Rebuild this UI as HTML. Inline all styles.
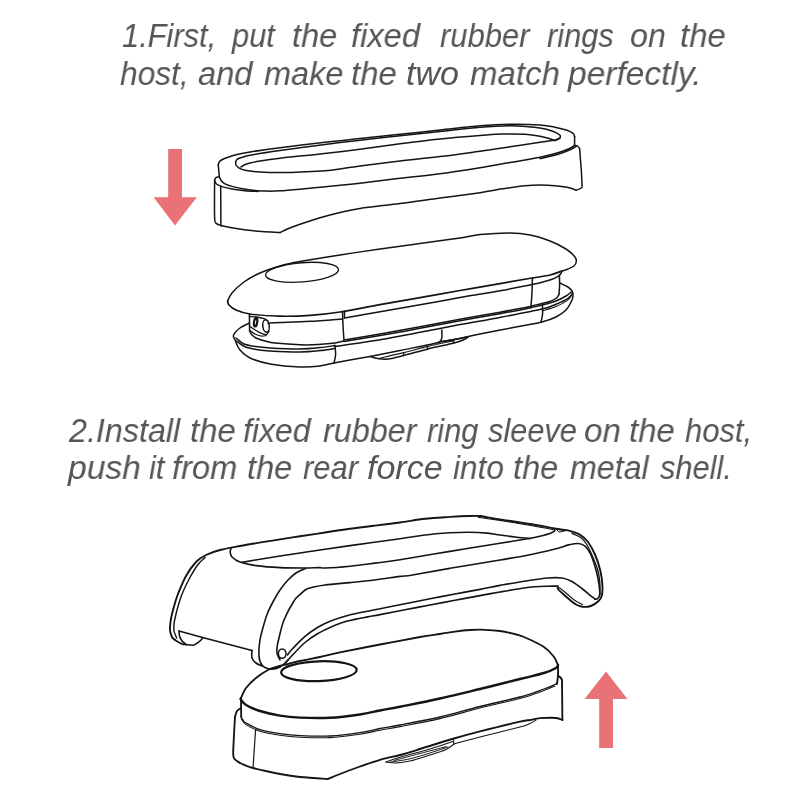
<!DOCTYPE html>
<html><head><meta charset="utf-8">
<style>
html,body{margin:0;padding:0;background:#fff;}
body{width:800px;height:800px;position:relative;overflow:hidden;font-family:"Liberation Sans",sans-serif;}
.t{position:absolute;white-space:nowrap;font-style:italic;color:#555555;font-size:34px;line-height:1;transform-origin:0 0;will-change:transform;}
svg{position:absolute;left:0;top:0;}
</style></head><body>
<span class="t" style="left:122.00px;top:18.2px;transform:scaleX(0.9060)">1.First,</span>
<span class="t" style="left:231.86px;top:18.2px;transform:scaleX(0.9050)">put</span>
<span class="t" style="left:291.54px;top:18.2px;transform:scaleX(0.9591)">the</span>
<span class="t" style="left:351.04px;top:18.2px;transform:scaleX(0.9595)">fixed</span>
<span class="t" style="left:440.00px;top:18.2px;transform:scaleX(0.9104)">rubber</span>
<span class="t" style="left:546.65px;top:18.2px;transform:scaleX(0.9050)">rings</span>
<span class="t" style="left:630.05px;top:18.2px;transform:scaleX(0.9468)">on</span>
<span class="t" style="left:680.03px;top:18.2px;transform:scaleX(0.9701)">the</span>
<span class="t" style="left:120.00px;top:55.5px;transform:scaleX(0.9322)">host,</span>
<span class="t" style="left:197.50px;top:55.5px;transform:scaleX(0.9599)">and</span>
<span class="t" style="left:264.00px;top:55.5px;transform:scaleX(0.9546)">make</span>
<span class="t" style="left:351.03px;top:55.5px;transform:scaleX(0.9701)">the</span>
<span class="t" style="left:406.13px;top:55.5px;transform:scaleX(0.9950)">two</span>
<span class="t" style="left:470.00px;top:55.5px;transform:scaleX(0.9708)">match</span>
<span class="t" style="left:568.49px;top:55.5px;transform:scaleX(0.9852)">perfectly.</span>
<span class="t" style="left:68.95px;top:413.2px;transform:scaleX(0.9488)">2.Install</span>
<span class="t" style="left:190.03px;top:413.2px;transform:scaleX(0.9701)">the</span>
<span class="t" style="left:243.06px;top:413.2px;transform:scaleX(0.9387)">fixed</span>
<span class="t" style="left:322.50px;top:413.2px;transform:scaleX(0.9504)">rubber</span>
<span class="t" style="left:426.80px;top:413.2px;transform:scaleX(0.9050)">ring</span>
<span class="t" style="left:487.94px;top:413.2px;transform:scaleX(0.9050)">sleeve</span>
<span class="t" style="left:584.03px;top:413.2px;transform:scaleX(0.9747)">on</span>
<span class="t" style="left:629.03px;top:413.2px;transform:scaleX(0.9701)">the</span>
<span class="t" style="left:685.00px;top:413.2px;transform:scaleX(0.9108)">host,</span>
<span class="t" style="left:67.99px;top:449.8px;transform:scaleX(0.9889)">push</span>
<span class="t" style="left:149.10px;top:449.8px;transform:scaleX(0.9050)">it</span>
<span class="t" style="left:172.04px;top:449.8px;transform:scaleX(0.9592)">from</span>
<span class="t" style="left:246.54px;top:449.8px;transform:scaleX(0.9591)">the</span>
<span class="t" style="left:302.50px;top:449.8px;transform:scaleX(0.9092)">rear</span>
<span class="t" style="left:366.60px;top:449.8px;transform:scaleX(0.9950)">force</span>
<span class="t" style="left:452.50px;top:449.8px;transform:scaleX(0.9275)">into</span>
<span class="t" style="left:513.04px;top:449.8px;transform:scaleX(0.9591)">the</span>
<span class="t" style="left:570.00px;top:449.8px;transform:scaleX(0.9458)">metal</span>
<span class="t" style="left:659.64px;top:449.8px;transform:scaleX(0.9050)">shell.</span>
<svg width="800" height="800" viewBox="0 0 800 800">
<g fill="#E97277" stroke="none">
<polygon points="168.2,149 182,149 182,197.3 196.8,197.3 175,225.5 153.6,197.3 168.2,197.3"/>
<polygon points="606,671.5 627.5,699 613,699 613,748 599.2,748 599.2,699 584.6,699"/>
</g>
<g fill="none" stroke="#141414" stroke-linecap="round" stroke-linejoin="round">
<path d="M218.3,165.0C218.5,164.4 218.5,162.6 219.5,161.5C220.5,160.4 221.9,159.6 224.5,158.5C227.1,157.4 230.8,156.1 235.0,155.0C239.2,153.9 242.5,153.2 250.0,152.0C257.5,150.8 267.5,149.3 280.0,147.7C292.5,146.1 311.7,143.7 325.0,142.2C338.3,140.7 347.5,139.9 360.0,138.6C372.5,137.3 386.7,135.7 400.0,134.3C413.3,132.9 426.7,131.4 440.0,130.0C453.3,128.6 468.3,126.8 480.0,125.8C491.7,124.8 500.0,124.4 510.0,124.3C520.0,124.2 532.5,124.5 540.0,125.0C547.5,125.5 550.5,126.3 555.0,127.2C559.5,128.1 564.0,129.3 567.0,130.3C570.0,131.3 571.7,132.3 573.0,133.3C574.3,134.3 574.3,136.0 574.6,136.5" stroke-width="1.5"/>
<path d="M574.6,136.5L574.6,145.2" stroke-width="1.5"/>
<path d="M235.7,161.5C236.0,161.1 236.4,159.7 237.5,159.0C238.6,158.3 240.4,157.8 242.5,157.2C244.6,156.6 243.8,156.4 250.0,155.3C256.2,154.2 267.5,152.4 280.0,150.6C292.5,148.8 311.7,146.2 325.0,144.5C338.3,142.8 347.5,141.6 360.0,140.2C372.5,138.8 386.7,137.3 400.0,135.8C413.3,134.3 426.7,132.8 440.0,131.4C453.3,130.0 468.3,128.1 480.0,127.2C491.7,126.3 502.5,125.9 510.0,125.8C517.5,125.7 520.0,126.0 525.0,126.4C530.0,126.8 535.5,127.2 540.0,128.0C544.5,128.8 548.8,129.9 552.0,131.0C555.2,132.1 558.2,133.7 559.5,134.8C560.8,135.9 560.5,136.9 560.0,137.8C559.5,138.7 557.1,139.6 556.5,140.0" stroke-width="1.5"/>
<path d="M241.0,167.0C241.7,166.6 243.5,165.2 245.0,164.5C246.5,163.8 247.5,163.6 250.0,163.0C252.5,162.4 255.0,161.8 260.0,161.0C265.0,160.2 270.0,159.4 280.0,158.2C290.0,157.0 306.7,155.5 320.0,154.0C333.3,152.5 346.7,150.9 360.0,149.2C373.3,147.5 386.7,145.5 400.0,143.8C413.3,142.1 426.7,140.4 440.0,139.0C453.3,137.6 469.6,136.3 480.0,135.5C490.4,134.7 495.0,134.2 502.5,134.0C510.0,133.8 518.8,133.9 525.0,134.3C531.2,134.7 536.0,135.5 540.0,136.2C544.0,136.9 546.5,137.8 549.0,138.5C551.5,139.2 554.0,140.3 555.0,140.7" stroke-width="1.5"/>
<path d="M235.7,161.5C235.8,162.1 235.4,163.9 236.0,165.0C236.6,166.1 237.5,167.1 239.0,168.0C240.5,168.9 241.5,169.6 245.0,170.3C248.5,171.0 254.2,171.6 260.0,172.0C265.8,172.4 273.3,172.6 280.0,172.6C286.7,172.6 292.5,172.3 300.0,172.0C307.5,171.7 315.0,171.8 325.0,170.8C335.0,169.8 347.5,167.6 360.0,166.0C372.5,164.4 386.7,162.6 400.0,161.0C413.3,159.4 426.7,158.2 440.0,156.6C453.3,155.0 468.3,152.8 480.0,151.2C491.7,149.6 500.0,148.3 510.0,146.8C520.0,145.3 532.5,143.3 540.0,142.2C547.5,141.1 551.7,140.7 555.0,140.0C558.3,139.3 559.2,138.2 560.0,137.8" stroke-width="1.5"/>
<path d="M218.3,165.0L219.3,177.0" stroke-width="1.5"/>
<path d="M219.3,177.0C219.7,177.7 220.6,179.9 221.5,181.0C222.4,182.1 223.2,182.9 225.0,183.8C226.8,184.7 229.1,185.6 232.0,186.4C234.9,187.2 238.7,188.1 242.5,188.8C246.3,189.5 250.8,190.1 255.0,190.5C259.2,190.9 263.3,191.0 267.5,191.1C271.7,191.2 274.6,191.1 280.0,190.8C285.4,190.5 293.3,189.8 300.0,189.2C306.7,188.6 313.3,188.0 320.0,187.3C326.7,186.7 333.3,186.0 340.0,185.3C346.7,184.6 350.0,184.4 360.0,183.2C370.0,182.0 386.7,179.9 400.0,178.3C413.3,176.7 426.7,175.6 440.0,173.8C453.3,172.1 468.3,169.7 480.0,167.8C491.7,165.9 500.0,164.3 510.0,162.5C520.0,160.7 532.0,158.8 540.0,157.2C548.0,155.6 553.0,154.3 558.0,152.8C563.0,151.3 567.2,149.6 570.0,148.3C572.8,147.0 573.8,145.7 574.6,145.2" stroke-width="1.5"/>
<path d="M219.3,177.0C218.8,177.1 217.0,176.9 216.2,177.4C215.4,177.9 214.9,179.6 214.6,180.0" stroke-width="1.5"/>
<path d="M214.7,181.0C215.0,181.5 215.3,183.1 216.5,184.0C217.7,184.9 219.4,185.8 222.0,186.6C224.6,187.4 228.2,188.3 232.0,189.0C235.8,189.7 240.7,190.4 245.0,190.8C249.3,191.2 255.8,191.3 258.0,191.4" stroke-width="1.5"/>
<path d="M540.0,158.6C543.0,157.9 553.0,155.8 558.0,154.3C563.0,152.8 567.0,151.1 570.0,149.8C573.0,148.5 575.0,147.1 576.0,146.5" stroke-width="1.5"/>
<path d="M574.6,145.5C575.1,145.6 576.6,145.4 577.5,146.0C578.4,146.6 579.3,148.5 579.7,149.0" stroke-width="1.5"/>
<path d="M214.6,180.0C214.6,183.3 214.5,193.4 214.5,200.0C214.5,206.6 214.4,215.6 214.7,219.5C215.0,223.4 215.1,222.3 216.2,223.4C217.3,224.5 220.6,225.4 221.5,225.8" stroke-width="1.5"/>
<path d="M220.7,186.2L220.9,225.6" stroke-width="1.5"/>
<path d="M221.5,225.8C225.0,226.4 235.8,228.5 242.5,229.5C249.2,230.5 255.8,231.1 262.0,231.6C268.2,232.1 277.0,232.3 280.0,232.5" stroke-width="1.5"/>
<path d="M280.0,232.5C281.3,231.9 284.7,230.2 288.0,228.8C291.3,227.4 294.7,226.1 300.0,224.3C305.3,222.5 313.3,219.8 320.0,217.8C326.7,215.8 333.3,214.1 340.0,212.5C346.7,210.9 350.0,209.9 360.0,208.4C370.0,206.9 386.7,205.2 400.0,203.5C413.3,201.8 426.7,199.8 440.0,198.0C453.3,196.2 469.6,194.2 480.0,192.7C490.4,191.2 495.0,190.0 502.5,188.8C510.0,187.7 518.8,186.4 525.0,185.8C531.2,185.2 535.0,185.0 540.0,185.0C545.0,185.0 550.0,185.3 555.0,185.8C560.0,186.3 566.5,187.2 570.0,188.0C573.5,188.8 575.0,189.9 576.0,190.3" stroke-width="1.5"/>
<path d="M579.7,149.0C579.8,150.8 580.2,156.5 580.5,160.0C580.8,163.5 581.0,165.8 581.3,170.0C581.5,174.2 582.0,182.0 582.0,185.0C582.0,188.0 582.3,187.1 581.3,188.0C580.3,188.9 576.9,189.9 576.0,190.3" stroke-width="1.5"/>
<path d="M227.6,301.0C228.3,299.7 229.3,296.2 232.0,293.0C234.7,289.8 239.3,285.3 244.0,282.0C248.7,278.7 254.0,275.7 260.0,273.0C266.0,270.3 273.3,267.9 280.0,266.0C286.7,264.1 290.0,263.4 300.0,261.6C310.0,259.8 326.7,257.1 340.0,255.0C353.3,252.9 366.7,250.9 380.0,249.0C393.3,247.1 406.7,245.3 420.0,243.5C433.3,241.7 450.0,239.5 460.0,238.0C470.0,236.5 471.7,235.4 480.0,234.6C488.3,233.8 501.7,232.9 510.0,233.0C518.3,233.1 523.3,233.7 530.0,235.0C536.7,236.3 544.0,238.7 550.0,241.0C556.0,243.3 561.8,246.3 566.0,249.0C570.2,251.7 573.3,254.8 575.0,257.0C576.7,259.2 576.4,260.5 576.2,262.0C576.0,263.5 575.4,264.8 574.0,266.0C572.6,267.2 570.0,268.2 568.0,269.0C566.0,269.8 563.0,270.7 562.0,271.0" stroke-width="1.5"/>
<path d="M227.6,301.0C227.8,301.7 227.6,303.5 229.0,305.0C230.4,306.5 232.5,308.5 236.0,310.0C239.5,311.5 242.7,313.0 250.0,314.0C257.3,315.0 270.0,316.0 280.0,316.2C290.0,316.4 300.0,316.1 310.0,315.4C320.0,314.7 328.3,313.8 340.0,312.0C351.7,310.2 366.7,307.0 380.0,304.6C393.3,302.2 406.7,300.0 420.0,297.6C433.3,295.2 446.7,292.8 460.0,290.5C473.3,288.2 488.0,285.7 500.0,283.6C512.0,281.5 523.7,279.4 532.0,278.0C540.3,276.6 545.0,276.2 550.0,275.0C555.0,273.8 560.0,271.7 562.0,271.0" stroke-width="1.7"/>
<path d="M344.5,318.0C350.4,316.9 367.4,313.9 380.0,311.7C392.6,309.5 406.7,307.1 420.0,304.8C433.3,302.5 446.7,299.9 460.0,297.6C473.3,295.3 488.0,293.0 500.0,290.8C512.0,288.6 523.7,286.4 532.0,284.6C540.3,282.8 545.6,281.4 550.0,280.0C554.4,278.6 556.6,277.5 558.5,276.2C560.4,274.9 561.0,273.0 561.5,272.4" stroke-width="1.5"/>
<path d="M344.5,311.3L344.5,318.0" stroke-width="1.5"/>
<path d="M342.5,311.5C342.6,313.8 342.8,320.2 343.0,325.0C343.2,329.8 343.8,337.5 344.0,340.0" stroke-width="1.5"/>
<path d="M532.4,278.0C532.3,280.3 532.2,287.3 532.0,292.0C531.8,296.7 531.2,303.7 531.0,306.0" stroke-width="1.5"/>
<path d="M559.4,275.0C559.4,276.7 559.7,281.8 559.6,285.0C559.5,288.2 559.1,292.9 559.0,294.5" stroke-width="1.5"/>
<path d="M249.4,314.5L249.6,331.0" stroke-width="1.5"/>
<path d="M268.0,323.2C270.0,323.1 273.0,322.9 280.0,322.6C287.0,322.3 299.6,321.9 310.0,321.3C320.4,320.7 337.1,319.3 342.5,318.9" stroke-width="1.5"/>
<path d="M250.0,316.5C251.3,316.6 255.7,316.8 258.0,317.2C260.3,317.6 262.3,318.0 264.0,318.6C265.7,319.2 267.3,320.6 268.0,321.0" stroke-width="1.4"/>
<path d="M250.0,326.5C251.0,327.2 254.0,329.3 256.0,330.5C258.0,331.7 260.2,332.9 262.0,333.6C263.8,334.3 265.3,334.9 266.5,334.5C267.7,334.1 268.6,331.6 269.0,331.0" stroke-width="1.4"/>
<path d="M250.0,330.5C250.8,331.1 253.2,333.1 255.0,334.0C256.8,334.9 259.2,335.7 261.0,336.0C262.8,336.3 265.2,335.7 266.0,335.6" stroke-width="1.2"/>
<path d="M249.6,331.0C249.9,331.6 250.3,333.3 251.5,334.5C252.7,335.7 254.2,337.2 256.5,338.3C258.8,339.4 261.9,340.2 265.0,341.0C268.1,341.8 269.2,342.5 275.0,343.1C280.8,343.7 292.8,344.6 300.0,344.8C307.2,345.1 312.2,344.9 318.0,344.6C323.8,344.3 330.8,343.7 335.0,343.1C339.2,342.5 342.1,341.4 343.5,341.0" stroke-width="1.5"/>
<path d="M344.0,340.0C350.0,339.0 367.3,336.2 380.0,334.0C392.7,331.8 406.7,329.3 420.0,326.8C433.3,324.3 446.7,321.6 460.0,319.2C473.3,316.8 488.2,314.3 500.0,312.2C511.8,310.1 525.8,307.4 531.0,306.4" stroke-width="1.5"/>
<path d="M344.0,341.6C350.0,340.6 367.3,337.8 380.0,335.6C392.7,333.4 406.7,330.8 420.0,328.3C433.3,325.8 446.7,323.1 460.0,320.7C473.3,318.3 488.2,315.8 500.0,313.7C511.8,311.6 525.8,308.8 531.0,307.8" stroke-width="1.5"/>
<path d="M531.0,306.0C533.8,305.3 543.8,303.2 548.0,302.0C552.2,300.8 554.2,299.8 556.0,298.5C557.8,297.2 558.5,295.2 559.0,294.5" stroke-width="1.5"/>
<path d="M531.0,307.4C532.8,307.0 537.8,306.1 542.0,305.0C546.2,303.9 552.0,302.5 556.0,301.0C560.0,299.5 563.3,297.6 566.0,296.0C568.7,294.4 571.0,292.2 572.0,291.5" stroke-width="1.5"/>
<path d="M560.0,283.0C561.3,283.7 566.0,285.7 568.0,287.0C570.0,288.3 571.2,289.7 572.0,291.0C572.8,292.3 573.0,293.5 573.0,295.0C573.0,296.5 573.2,297.5 572.0,300.0C570.8,302.5 568.7,307.2 566.0,310.0C563.3,312.8 560.0,315.0 556.0,317.0C552.0,319.0 548.0,320.4 542.0,322.0C536.0,323.6 530.3,324.3 520.0,326.3C509.7,328.3 490.0,332.0 480.0,334.0C470.0,336.0 466.3,337.1 460.0,338.4C453.7,339.6 445.0,341.0 442.0,341.5" stroke-width="1.5"/>
<path d="M335.0,346.4C342.5,345.3 365.8,342.2 380.0,339.8C394.2,337.4 406.7,334.7 420.0,332.2C433.3,329.7 446.7,327.1 460.0,324.6C473.3,322.1 486.3,320.0 500.0,317.4C513.7,314.8 532.7,311.2 542.0,309.0C551.3,306.8 551.7,306.1 556.0,304.3C560.3,302.5 565.3,300.2 568.0,298.4C570.7,296.6 571.7,294.4 572.4,293.6" stroke-width="1.5"/>
<path d="M542.4,305.0C542.4,306.5 542.8,311.2 542.6,314.0C542.4,316.8 541.3,320.7 541.0,322.0" stroke-width="1.5"/>
<path d="M249.6,323.0C248.0,323.8 242.7,326.0 240.0,328.0C237.3,330.0 234.4,333.0 233.6,335.0C232.8,337.0 233.9,337.5 235.0,340.0C236.1,342.5 237.5,347.0 240.0,350.0C242.5,353.0 245.0,355.7 250.0,358.0C255.0,360.3 261.7,362.5 270.0,364.0C278.3,365.5 291.7,366.7 300.0,367.0C308.3,367.3 314.3,366.7 320.0,366.0C325.7,365.3 331.7,363.5 334.0,363.0" stroke-width="1.5"/>
<path d="M236.0,338.0C237.3,339.0 240.7,342.6 244.0,344.0C247.3,345.4 251.7,345.9 256.0,346.6C260.3,347.3 262.7,347.6 270.0,348.0C277.3,348.4 291.7,349.1 300.0,349.0C308.3,348.9 314.2,348.2 320.0,347.6C325.8,347.0 332.5,345.9 335.0,345.6" stroke-width="1.5"/>
<path d="M236.6,341.0C238.0,342.0 241.6,345.4 245.0,346.8C248.4,348.2 252.8,348.9 257.0,349.6C261.2,350.3 262.8,350.6 270.0,351.0C277.2,351.4 291.7,352.1 300.0,352.0C308.3,351.9 314.2,351.2 320.0,350.6C325.8,350.0 332.2,348.8 334.6,348.4" stroke-width="1.5"/>
<path d="M335.0,345.6C335.1,347.2 335.8,352.1 335.6,355.0C335.4,357.9 334.3,361.7 334.0,363.0" stroke-width="1.5"/>
<path d="M334.0,363.0C336.7,362.5 344.0,361.1 350.0,360.0C356.0,358.9 366.7,357.0 370.0,356.4" stroke-width="1.5"/>
<path d="M370.0,356.4C375.0,355.4 390.0,352.5 400.0,350.5C410.0,348.5 423.0,346.0 430.0,344.5C437.0,343.0 435.7,342.9 442.0,341.6C448.3,340.4 463.7,337.8 468.0,337.0" stroke-width="1.5"/>
<path d="M441.8,330.0C441.8,331.0 442.1,334.2 442.0,336.0C441.9,337.8 441.7,339.3 441.0,340.5C440.3,341.7 438.5,342.6 438.0,343.0" stroke-width="1.5"/>
<path d="M370.0,356.4C371.3,356.8 375.0,358.2 378.0,358.6C381.0,359.0 383.7,359.5 388.0,359.0C392.3,358.5 397.3,357.1 404.0,355.4C410.7,353.7 419.7,351.1 428.0,349.0C436.3,346.9 448.0,344.6 454.0,343.0C460.0,341.4 461.7,340.6 464.0,339.6C466.3,338.6 467.3,337.4 468.0,337.0" stroke-width="1.5"/>
<path d="M378.0,358.6C382.3,357.6 395.7,354.6 404.0,352.6C412.3,350.6 419.7,348.4 428.0,346.4C436.3,344.4 449.7,341.6 454.0,340.6" stroke-width="1.1"/>
<path d="M404.0,352.6L403.0,355.6" stroke-width="1.1"/>
<path d="M428.0,346.4L427.0,349.2" stroke-width="1.1"/>
<path d="M454.0,340.6L453.0,343.2" stroke-width="1.1"/>
<path d="M175.0,640.0C174.5,639.5 172.8,638.7 172.0,637.0C171.2,635.3 170.2,632.5 170.0,630.0C169.8,627.5 170.2,624.7 170.5,622.0C170.8,619.3 171.2,617.2 172.0,614.0C172.8,610.8 174.0,606.3 175.0,603.0C176.0,599.7 176.2,598.5 178.0,594.0C179.8,589.5 183.0,581.3 186.0,576.0C189.0,570.7 192.7,565.5 196.0,562.0C199.3,558.5 202.0,557.0 206.0,555.0C210.0,553.0 214.3,551.5 220.0,550.0C225.7,548.5 230.0,547.8 240.0,546.0C250.0,544.2 270.0,541.0 280.0,539.4C290.0,537.8 292.5,537.4 300.0,536.3C307.5,535.1 316.7,533.8 325.0,532.5C333.3,531.2 341.7,529.9 350.0,528.8C358.3,527.6 366.7,526.6 375.0,525.6C383.3,524.6 391.7,523.6 400.0,522.5C408.3,521.4 416.7,519.7 425.0,518.8C433.3,517.9 442.7,517.4 450.0,516.9C457.3,516.4 463.8,516.1 468.8,516.0C473.8,515.9 476.9,515.8 480.0,516.0C483.1,516.2 484.2,516.8 487.5,517.4C490.8,518.0 492.9,518.3 500.0,519.4C507.1,520.5 520.3,522.4 530.0,524.0C539.7,525.6 551.5,527.9 558.0,529.0C564.5,530.1 565.2,529.7 568.8,530.6C572.4,531.5 576.6,532.7 579.8,534.6C583.0,536.5 585.5,538.7 588.0,542.0C590.5,545.3 592.9,549.7 595.0,554.5C597.1,559.3 599.2,565.9 600.4,571.0C601.6,576.1 602.2,580.9 602.4,585.0C602.6,589.1 602.5,593.1 601.8,595.8C601.1,598.5 600.1,599.6 598.3,601.3C596.5,603.0 593.4,605.1 590.8,606.0C588.2,606.9 585.0,607.0 582.5,606.8C580.0,606.5 577.8,605.4 576.0,604.5C574.2,603.6 573.8,603.2 571.5,601.3C569.2,599.4 564.2,595.0 562.0,593.0C559.8,591.0 558.7,590.1 558.0,589.0C557.3,587.9 557.8,586.7 557.8,586.2" stroke-width="1.9"/>
<path d="M205.0,557.5C203.8,558.7 200.6,561.0 198.0,564.5C195.4,568.0 192.2,573.3 189.4,578.5C186.7,583.7 183.7,589.6 181.5,595.5C179.3,601.4 177.2,609.2 176.0,614.0C174.8,618.8 174.3,621.2 174.0,624.0C173.7,626.8 173.6,628.7 174.0,631.0C174.4,633.3 176.2,636.8 176.6,638.0" stroke-width="1.45"/>
<path d="M175.0,640.0C176.2,640.7 180.2,643.2 182.0,644.0C183.8,644.8 184.0,644.4 186.0,644.6C188.0,644.8 191.7,645.6 194.0,645.0C196.3,644.4 198.6,642.2 200.0,641.0C201.4,639.8 202.2,638.3 202.6,637.8" stroke-width="1.6"/>
<path d="M179.0,631.0C179.1,631.8 179.0,634.3 179.5,636.0C180.0,637.7 180.9,639.6 182.0,641.0C183.1,642.4 185.3,643.8 186.0,644.4" stroke-width="1.6"/>
<path d="M179.0,631.0L202.6,637.6L252.0,650.4" stroke-width="1.6"/>
<path d="M252.0,650.4C252.0,651.7 251.3,655.9 252.0,658.0C252.7,660.1 254.3,661.7 256.0,663.0C257.7,664.3 261.0,665.5 262.0,666.0" stroke-width="1.6"/>
<path d="M231.0,548.5C230.9,549.1 230.0,550.6 230.2,552.0C230.4,553.4 230.4,555.3 232.0,557.0C233.6,558.7 236.0,560.6 240.0,562.0C244.0,563.4 249.3,564.7 256.0,565.6C262.7,566.5 272.0,567.2 280.0,567.6C288.0,568.0 297.3,568.0 304.0,568.0C310.7,568.0 316.5,567.6 320.0,567.6C323.5,567.6 320.0,568.2 325.0,568.0C330.0,567.8 341.7,567.0 350.0,566.2C358.3,565.4 366.7,564.2 375.0,563.1C383.3,562.0 387.5,561.8 400.0,559.8C412.5,557.8 433.3,554.1 450.0,551.4C466.7,548.6 487.1,545.4 500.0,543.3C512.9,541.2 520.7,539.9 527.5,538.7C534.3,537.5 537.1,537.0 541.0,536.0C544.9,535.0 548.7,533.9 551.0,533.0C553.3,532.1 554.7,531.2 555.0,530.4C555.3,529.6 553.3,528.6 553.0,528.3" stroke-width="1.6"/>
<path d="M242.0,562.4C245.0,561.9 253.7,560.3 260.0,559.2C266.3,558.1 273.3,557.0 280.0,556.0C286.7,555.0 293.3,554.0 300.0,553.0C306.7,552.0 311.7,551.2 320.0,550.0C328.3,548.8 336.7,547.5 350.0,545.6C363.3,543.7 387.5,540.6 400.0,538.8C412.5,537.0 416.7,536.0 425.0,535.0C433.3,534.0 442.7,533.3 450.0,532.8C457.3,532.3 462.6,532.2 468.8,532.2C475.1,532.2 482.3,532.6 487.5,533.1C492.7,533.6 495.4,534.4 500.0,535.0C504.6,535.6 510.0,536.4 515.0,537.0C520.0,537.6 527.5,538.3 530.0,538.6" stroke-width="1.6"/>
<path d="M306.0,568.4C304.3,569.2 299.0,571.1 296.0,573.0C293.0,574.9 290.7,577.2 288.0,580.0C285.3,582.8 282.3,586.7 280.0,590.0C277.7,593.3 276.0,596.3 274.0,600.0C272.0,603.7 269.7,608.0 268.0,612.0C266.3,616.0 265.3,619.3 264.0,624.0C262.7,628.7 260.8,634.7 260.0,640.0C259.2,645.3 258.7,651.8 259.0,656.0C259.3,660.2 260.2,662.8 262.0,665.0C263.8,667.2 267.0,668.7 270.0,669.0C273.0,669.3 277.0,668.5 280.0,667.0C283.0,665.5 286.7,661.2 288.0,660.0" stroke-width="1.6"/>
<path d="M280.0,660.0C279.5,659.0 277.7,656.0 277.2,654.0C276.7,652.0 276.8,650.3 277.0,648.0C277.2,645.7 277.3,644.7 278.5,640.0C279.7,635.3 281.4,626.5 284.0,620.0C286.6,613.5 291.3,605.2 294.0,601.0C296.7,596.8 297.7,596.7 300.0,594.6C302.3,592.5 303.8,590.2 308.0,588.6C312.2,587.0 318.0,586.0 325.0,585.0C332.0,584.0 341.7,583.4 350.0,582.6C358.3,581.8 366.7,581.0 375.0,580.0C383.3,579.0 393.8,577.2 400.0,576.4C406.2,575.6 404.2,576.4 412.5,575.0C420.8,573.6 435.4,570.8 450.0,568.3C464.6,565.8 487.1,562.2 500.0,560.0C512.9,557.8 518.3,557.0 527.5,555.2C536.7,553.4 548.1,550.7 555.0,549.0C561.9,547.3 564.9,545.8 568.8,544.9C572.7,544.0 575.6,543.3 578.4,543.5C581.1,543.7 583.2,544.5 585.3,546.3C587.4,548.1 589.0,550.4 590.8,554.5C592.6,558.6 594.9,566.0 596.3,571.0C597.7,576.0 598.4,580.9 599.0,584.8C599.6,588.7 599.9,592.1 599.7,594.4C599.5,596.7 598.5,597.7 597.7,598.5C596.9,599.3 595.5,599.1 595.0,599.2" stroke-width="1.6"/>
<path d="M287.5,655.0C288.3,654.0 289.6,651.9 292.5,648.8C295.4,645.7 300.8,639.8 305.0,636.3C309.2,632.8 313.3,630.0 317.5,627.5C321.7,625.0 325.8,623.1 330.0,621.3C334.2,619.5 338.3,618.1 342.5,616.9C346.7,615.6 350.8,614.7 355.0,613.8C359.2,612.9 363.3,612.1 367.5,611.3C371.7,610.5 373.8,610.0 380.0,608.8C386.2,607.5 396.7,605.5 405.0,603.8C413.3,602.1 421.7,600.4 430.0,598.8C438.3,597.2 446.7,595.6 455.0,594.0C463.3,592.4 472.5,590.8 480.0,589.4C487.5,588.0 492.1,586.8 500.0,585.4C507.9,584.0 519.5,581.9 527.5,580.7C535.5,579.5 542.2,578.5 548.0,578.0C553.8,577.5 558.1,577.5 562.0,578.0C565.9,578.5 568.1,579.5 571.5,581.3C574.9,583.1 579.3,586.6 582.5,589.0C585.7,591.4 588.7,594.1 590.8,595.8C592.9,597.5 594.3,598.6 595.0,599.2" stroke-width="1.6"/>
<path d="M285.5,663.0C286.7,661.7 289.2,658.4 292.5,655.0C295.8,651.6 300.8,646.0 305.0,642.5C309.2,639.0 313.3,636.3 317.5,633.8C321.7,631.3 325.8,629.4 330.0,627.5C334.2,625.6 338.3,624.0 342.5,622.6C346.7,621.2 350.8,620.4 355.0,619.4C359.2,618.4 363.3,617.7 367.5,616.9C371.7,616.1 373.8,615.8 380.0,614.6C386.2,613.4 396.7,611.4 405.0,609.8C413.3,608.2 421.7,606.6 430.0,605.0C438.3,603.4 446.7,601.9 455.0,600.3C463.3,598.7 472.5,597.0 480.0,595.6C487.5,594.2 492.1,593.4 500.0,592.0C507.9,590.6 519.5,588.5 527.5,587.5C535.5,586.5 543.0,586.4 548.0,586.2C553.0,586.0 556.2,586.2 557.8,586.2" stroke-width="1.6"/>
<path d="M559.0,587.5C560.2,588.4 563.5,590.9 566.0,593.0C568.5,595.1 571.5,598.0 574.3,600.0C577.0,602.0 581.1,603.9 582.5,604.7" stroke-width="1.1"/>
<path d="M572.0,533.4C573.4,534.1 578.2,535.8 580.6,537.6C583.0,539.4 584.4,540.9 586.4,544.0C588.4,547.1 590.5,551.5 592.4,556.0C594.3,560.5 596.7,566.2 598.0,571.0C599.3,575.8 599.7,581.0 600.0,585.0C600.3,589.0 599.8,593.3 599.8,595.0" stroke-width="1.3"/>
<path d="M241.0,698.0C241.8,696.3 243.5,691.3 246.0,688.0C248.5,684.7 252.3,681.0 256.0,678.0C259.7,675.0 264.3,671.9 268.0,670.0C271.7,668.1 274.7,667.4 278.0,666.4C281.3,665.4 284.3,664.9 288.0,664.0C291.7,663.1 294.7,662.2 300.0,661.0C305.3,659.8 313.3,658.4 320.0,657.0C326.7,655.6 330.0,654.5 340.0,652.4C350.0,650.3 366.7,647.1 380.0,644.5C393.3,641.9 410.0,638.8 420.0,637.0C430.0,635.2 434.2,634.9 440.0,634.0C445.8,633.1 450.0,632.3 455.0,631.6C460.0,630.9 465.0,630.3 470.0,630.0C475.0,629.7 480.0,629.6 485.0,629.8C490.0,630.0 495.5,630.4 500.0,631.0C504.5,631.6 508.0,632.4 512.0,633.4C516.0,634.4 518.7,634.7 524.0,637.0C529.3,639.3 539.0,643.7 544.0,647.0C549.0,650.3 551.7,654.0 554.0,657.0C556.3,660.0 557.3,663.7 558.0,665.0" stroke-width="1.85"/>
<path d="M241.0,698.0L241.2,717.0" stroke-width="1.85"/>
<path d="M558.0,665.0C558.0,666.7 558.2,671.8 558.0,675.0C557.8,678.2 557.2,682.5 557.0,684.0" stroke-width="1.85"/>
<path d="M240.5,699.0C241.4,700.0 242.8,703.0 246.0,705.0C249.2,707.0 254.3,709.2 260.0,711.0C265.7,712.8 273.3,714.5 280.0,715.6C286.7,716.7 291.7,717.2 300.0,717.6C308.3,718.0 320.0,718.3 330.0,717.8C340.0,717.3 351.7,715.7 360.0,714.5C368.3,713.3 373.3,711.8 380.0,710.5C386.7,709.2 390.0,708.7 400.0,706.7C410.0,704.7 426.7,701.5 440.0,698.5C453.3,695.5 466.7,692.2 480.0,689.0C493.3,685.8 509.3,681.7 520.0,679.0C530.7,676.3 538.0,674.8 544.0,673.0C550.0,671.2 553.7,669.3 556.0,668.0C558.3,666.7 557.7,665.5 558.0,665.0" stroke-width="2.4"/>
<path d="M241.0,708.0C240.3,708.5 238.0,709.5 237.0,711.0C236.0,712.5 235.3,716.0 235.0,717.0" stroke-width="1.85"/>
<path d="M235.0,717.0C234.8,720.0 234.3,728.8 234.0,735.0C233.7,741.2 233.1,750.0 233.2,754.0C233.3,758.0 233.5,757.5 234.6,759.0C235.7,760.5 239.1,762.3 240.0,763.0" stroke-width="1.85"/>
<path d="M241.2,717.0C241.5,717.5 242.2,719.0 243.0,720.0C243.8,721.0 243.2,721.4 246.0,723.0C248.8,724.6 254.3,727.8 260.0,729.6C265.7,731.4 273.3,732.6 280.0,733.6C286.7,734.6 291.7,735.2 300.0,735.6C308.3,736.0 320.0,736.5 330.0,736.0C340.0,735.5 351.7,733.9 360.0,732.6C368.3,731.4 373.3,729.8 380.0,728.5C386.7,727.2 390.0,726.9 400.0,725.0C410.0,723.1 426.7,720.1 440.0,717.0C453.3,713.9 466.7,709.8 480.0,706.5C493.3,703.2 509.3,699.9 520.0,697.0C530.7,694.1 538.3,691.0 544.0,689.0C549.7,687.0 551.8,686.0 554.0,685.0C556.2,684.0 556.5,683.3 557.0,683.0" stroke-width="1.3"/>
<path d="M241.2,719.0C242.0,719.9 242.9,722.6 246.0,724.6C249.1,726.6 254.3,729.4 260.0,731.2C265.7,733.0 273.3,734.2 280.0,735.2C286.7,736.2 291.7,736.8 300.0,737.2C308.3,737.6 320.0,738.1 330.0,737.6C340.0,737.1 351.7,735.4 360.0,734.2C368.3,733.0 373.3,731.5 380.0,730.2C386.7,728.9 390.0,728.5 400.0,726.6C410.0,724.7 426.7,721.7 440.0,718.6C453.3,715.5 466.7,711.4 480.0,708.0C493.3,704.6 509.3,701.4 520.0,698.5C530.7,695.6 538.2,692.6 544.0,690.5C549.8,688.4 553.2,686.8 555.0,686.0" stroke-width="1.1"/>
<path d="M558.0,676.0C558.4,676.2 559.8,676.8 560.5,677.5C561.2,678.2 561.8,679.6 562.0,680.0" stroke-width="1.85"/>
<path d="M562.0,680.0L562.4,720.0" stroke-width="1.85"/>
<path d="M255.6,729.5L253.0,768.0" stroke-width="1.2"/>
<path d="M240.0,763.0C242.2,763.8 246.3,766.2 253.0,768.0C259.7,769.8 272.2,772.5 280.0,774.0C287.8,775.5 292.0,776.2 300.0,777.0C308.0,777.8 323.3,778.7 328.0,779.0" stroke-width="1.85"/>
<path d="M328.0,779.0C330.0,778.2 334.7,776.1 340.0,774.0C345.3,771.9 353.3,768.9 360.0,766.5C366.7,764.1 373.3,761.7 380.0,759.8C386.7,757.9 393.3,756.8 400.0,755.0C406.7,753.2 411.0,751.8 420.0,749.0C429.0,746.2 444.0,741.4 454.0,738.5C464.0,735.6 469.0,734.2 480.0,731.4C491.0,728.6 511.7,723.5 520.0,721.6C528.3,719.7 526.7,720.6 530.0,720.0C533.3,719.4 535.7,718.5 540.0,718.2C544.3,717.9 552.3,717.7 556.0,718.0C559.7,718.3 561.3,719.7 562.4,720.0" stroke-width="1.85"/>
<path d="M386.0,762.0C387.7,762.2 392.0,763.2 396.0,763.0C400.0,762.8 404.3,762.3 410.0,761.0C415.7,759.7 424.0,756.9 430.0,755.0C436.0,753.1 442.0,751.3 446.0,749.5C450.0,747.7 452.7,744.9 454.0,744.0" stroke-width="1.1"/>
<path d="M394.0,760.5C398.3,759.3 411.3,755.8 420.0,753.5C428.7,751.2 441.7,747.8 446.0,746.6" stroke-width="1.0"/>
<path d="M453.0,738.5L454.0,744.0" stroke-width="1.1"/>
<path d="M454.0,744.0C458.3,742.8 469.0,739.8 480.0,737.0C491.0,734.2 511.7,729.2 520.0,727.0C528.3,724.8 527.3,724.7 530.0,723.5C532.7,722.3 535.0,720.6 536.0,720.0" stroke-width="1.1"/>
<path d="M478.0,517.2C481.7,517.7 491.8,519.1 500.0,520.4C508.2,521.7 520.0,523.7 527.5,525.0C535.0,526.3 540.8,527.2 545.0,528.0C549.2,528.8 551.7,529.3 553.0,529.6" stroke-width="1.1"/>
<path d="M556.5,529.3L566.0,530.6L559.0,532.2L556.5,529.3" stroke-width="1.0"/>
<path d="M390.0,762.2C393.3,761.6 403.3,760.3 410.0,758.8C416.7,757.3 423.7,755.0 430.0,753.0C436.3,751.0 445.0,748.0 448.0,747.0" stroke-width="1.0"/>
<path d="M386.0,762.0C388.3,761.2 392.7,759.4 400.0,757.2C407.3,755.0 421.2,751.6 430.0,749.0C438.8,746.4 449.2,742.8 453.0,741.5" stroke-width="1.1"/>
<path d="M542.6,310.8C544.8,310.1 551.9,308.3 556.0,306.6C560.1,304.9 564.4,302.4 567.0,300.6C569.6,298.8 570.8,296.4 571.6,295.6" stroke-width="1.1"/>
<ellipse cx="302" cy="272.3" rx="36.6" ry="9.6" transform="rotate(-4.5 302 272.3)" stroke-width="1.35"/>
<ellipse cx="266" cy="326" rx="3.2" ry="6.2" transform="rotate(-6 266 326)" stroke-width="1.5"/>
<ellipse cx="255.6" cy="322.3" rx="1.6" ry="4.2" transform="rotate(8 255.6 322.3)" stroke-width="2.2"/>
<ellipse cx="282.2" cy="653.6" rx="3.8" ry="4.7" stroke-width="1.5"/>
<ellipse cx="318.9" cy="671.2" rx="37.8" ry="9.9" transform="rotate(-2 318.9 671.2)" stroke-width="2.2"/>

</g>
</svg>
</body></html>
